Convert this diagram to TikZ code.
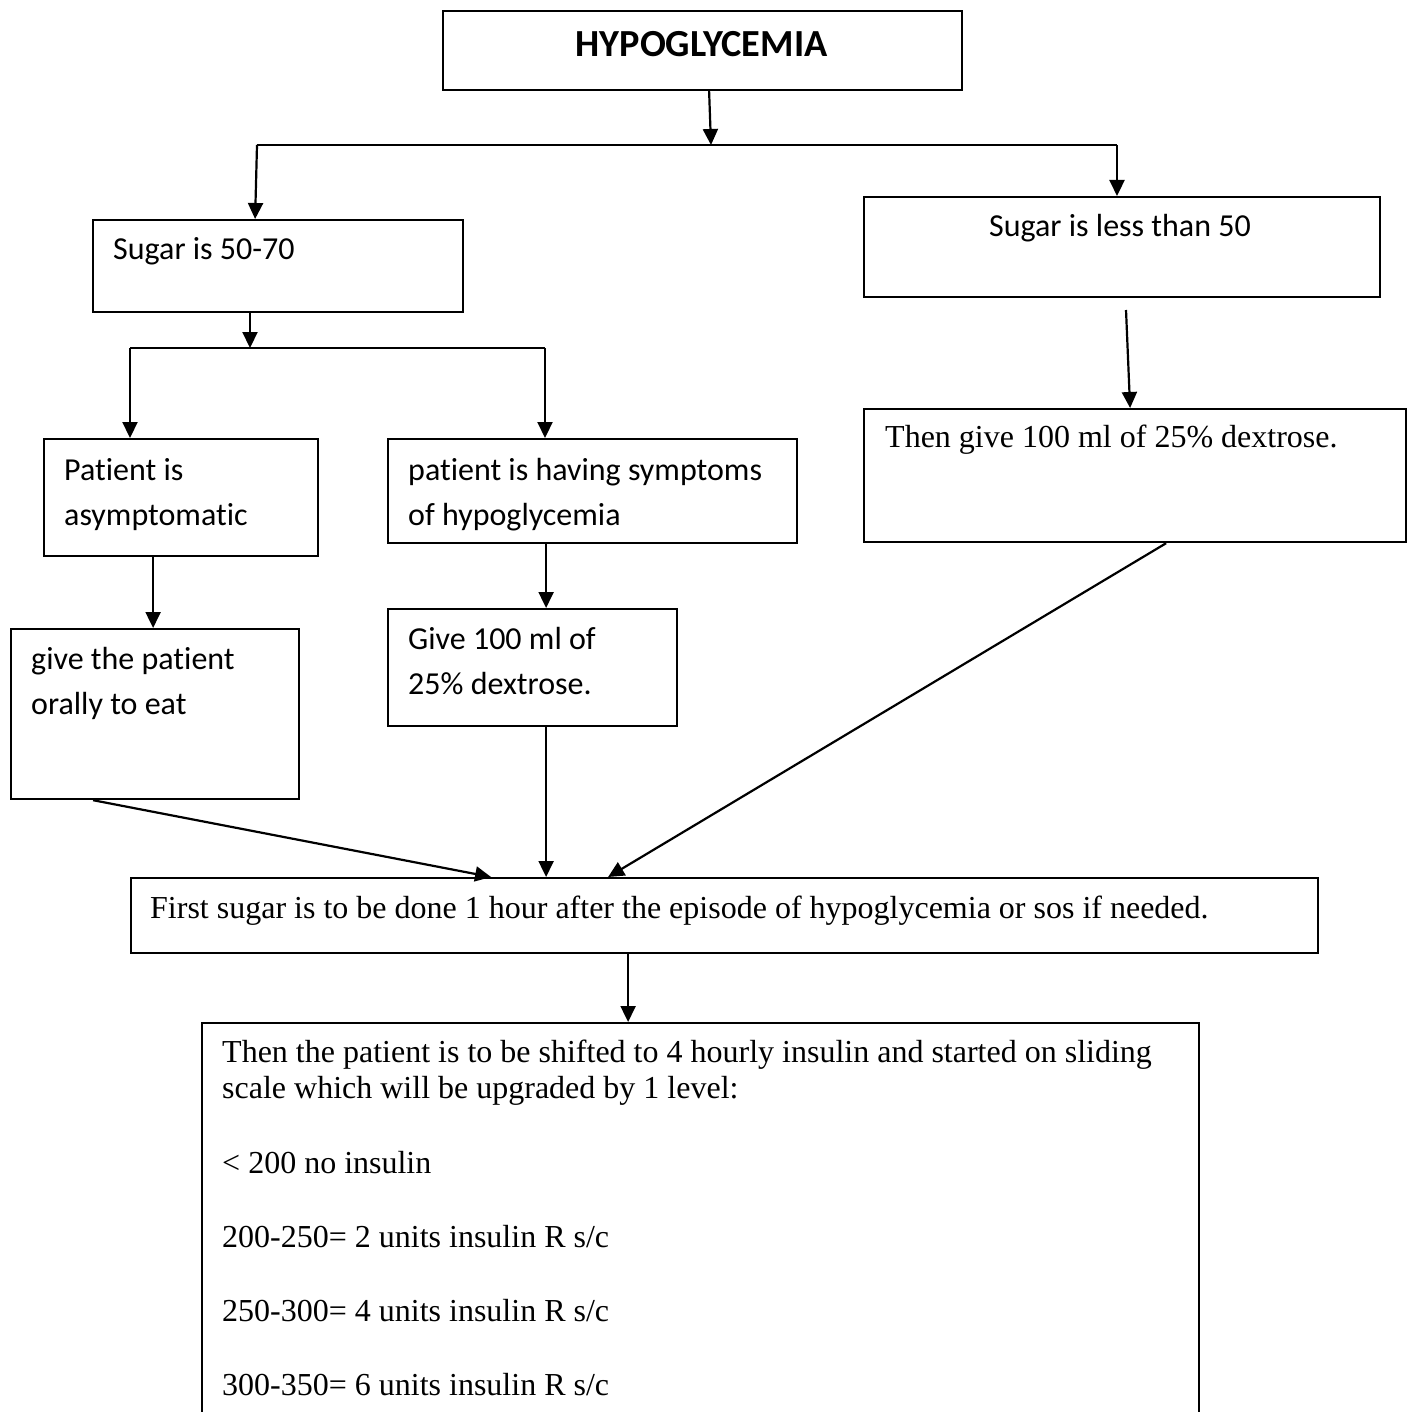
\documentclass[tikz,border=0pt]{standalone}
\usepackage{fontspec}
\setmainfont{Liberation Serif}
\newfontfamily\calfont[Ligatures=NoCommon]{Carlito}
\usetikzlibrary{arrows.meta,calc}
\tikzset{
  box/.style={draw, line width=2.2pt, anchor=north west, inner sep=0pt, minimum width=#1},
  sanstxt/.style={anchor=base west, inner sep=0pt, font=\calfont\fontsize{32}{38}\selectfont},
  seriftxt/.style={anchor=base west, inner sep=0pt, font=\fontsize{32}{38}\selectfont},
  arr/.style={line width=2.2pt, -{Triangle[length=16pt,width=15pt]}},
  ln/.style={line width=2.2pt}
}
\begin{document}
\begin{tikzpicture}[x=1pt,y=-1pt]
\useasboundingbox (0,0) rectangle (1409,1412);
\clip (0,0) rectangle (1409,1412);
\fill[white] (0,0) rectangle (1409,1412);
% boxes
\node[box=519pt, minimum height=79pt] (title) at (442,10) {};
\node[box=370pt, minimum height=92pt] (s1) at (92,219) {};
\node[box=516pt, minimum height=100pt] (s2) at (863,196) {};
\node[box=274pt, minimum height=117pt] (pa) at (43,438) {};
\node[box=409pt, minimum height=104pt] (ps) at (387,438) {};
\node[box=542pt, minimum height=133pt] (d1) at (863,408) {};
\node[box=288pt, minimum height=170pt] (eat) at (10,628) {};
\node[box=289pt, minimum height=117pt] (gv) at (387,608) {};
\node[box=1187pt, minimum height=75pt] (first) at (130,877) {};
\node[box=997pt, minimum height=420pt] (last) at (201,1022) {};
% texts
\node[anchor=base, inner sep=0pt, font=\calfont\bfseries\fontsize{38.3}{45}\selectfont] (t0) at (701.5,57) {HYPOGLYCEMIA};
\node[sanstxt] (t1) at (113,260) {Sugar is 50-70};
\node[sanstxt, anchor=base] (t2) at (1120,237) {Sugar is less than 50};
\node[sanstxt] (t3a) at (64,480) {Patient is};
\node[sanstxt] (t3b) at (64,525) {asymptomatic};
\node[sanstxt] (t4a) at (408,480) {patient is having symptoms};
\node[sanstxt] (t4b) at (408,525) {of hypoglycemia};
\node[sanstxt] (t5a) at (31,669) {give the patient};
\node[sanstxt] (t5b) at (31,714) {orally to eat};
\node[sanstxt] (t6a) at (408,649) {Give 100 ml of};
\node[sanstxt] (t6b) at (408,694) {25\% dextrose.};
\node[seriftxt] (t7) at (885,447) {Then give 100 ml of 25\% dextrose.};
\node[seriftxt] (t8) at (150,918) {First sugar is to be done 1 hour after the episode of hypoglycemia or sos if needed.};
\node[seriftxt] (t9a) at (222,1062) {Then the patient is to be shifted to 4 hourly insulin and started on sliding};
\node[seriftxt] (t9b) at (222,1098) {scale which will be upgraded by 1 level:};
\node[seriftxt] (t9c) at (222,1173) {< 200 no insulin};
\node[seriftxt] (t9d) at (222,1247) {200-250= 2 units insulin R s/c};
\node[seriftxt] (t9e) at (222,1321) {250-300= 4 units insulin R s/c};
\node[seriftxt] (t9f) at (222,1395) {300-350= 6 units insulin R s/c};
% junction coordinates
\coordinate (j1) at (711,145);
\coordinate (jl) at (257,145);
\coordinate (jr) at (1117,145);
\coordinate (j2) at (250,348);
\coordinate (jl2) at (130,348);
\coordinate (jr2) at (545,348);
\coordinate (g1) at (1126,310);
% connectors
\draw[arr] ([xshift=6.5pt]title.south) -- (j1);
\draw[ln] (jl) -- (jr);
\draw[arr] (jl) -- ([xshift=-23pt]s1.north);
\draw[arr] (jr) -- (jr |- s2.north);
\draw[arr] (j2 |- s1.south) -- (j2);
\draw[ln] (jl2) -- (jr2);
\draw[arr] (jl2) -- (jl2 |- pa.north);
\draw[arr] (jr2) -- (jr2 |- ps.north);
\draw[arr] (g1) -- ([xshift=-5pt]d1.north);
\draw[arr] ([xshift=-28pt]pa.south) -- ([xshift=-2pt]eat.north);
\draw[arr] ([xshift=-46.5pt]ps.south) -- ([xshift=13.5pt]gv.north);
\draw[arr] ([xshift=-62pt]eat.south) -- ([xshift=-233.5pt]first.north);
\draw[arr] ([xshift=13.5pt]gv.south) -- ([xshift=-178.5pt]first.north);
\draw[arr] ([xshift=31pt]d1.south) -- ([xshift=-116.5pt]first.north);
\draw[arr] ([xshift=-96.5pt]first.south) -- ([xshift=-72.5pt]last.north);
\end{tikzpicture}
\end{document}
